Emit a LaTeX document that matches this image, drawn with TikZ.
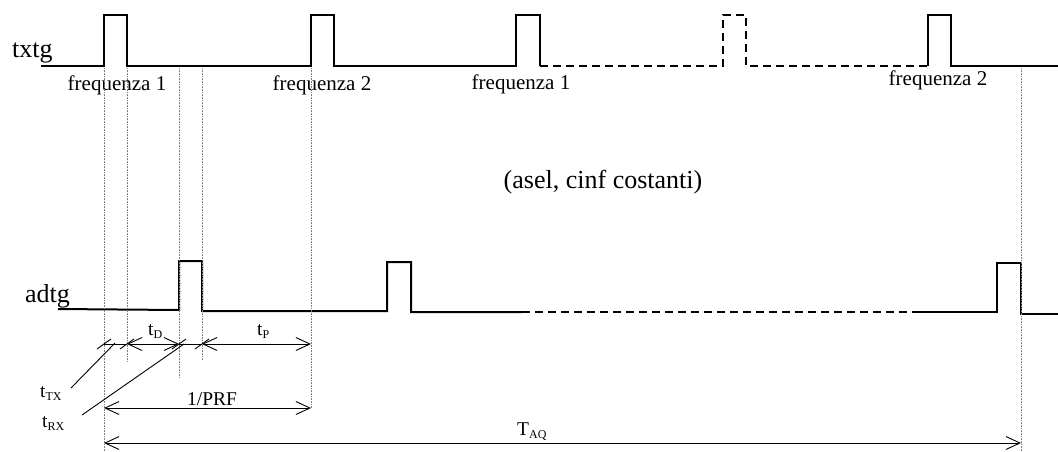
\documentclass[tikz,border=0pt]{standalone}
\usepackage{fontspec}
\setmainfont{Liberation Serif}
\usetikzlibrary{arrows.meta}
\newcommand{\lowidx}[1]{{\fontsize{12}{12}\selectfont\raisebox{-3pt}{#1}}}

\begin{document}
\begin{tikzpicture}[x=1pt,y=-1pt,
    signal/.style={line width=2pt,line join=miter},
    guide/.style={densely dotted,gray,line width=0.6pt},
    dimline/.style={line width=0.9pt,{Straight Barb[length=14pt,width=13pt]}-{Straight Barb[length=14pt,width=13pt]}},
    bigtext/.style={font=\fontsize{26}{28}\selectfont,inner sep=0pt},
    freqtext/.style={font=\fontsize{21}{23}\selectfont,inner sep=0pt},
    dimtext/.style={font=\fontsize{19.5}{21}\selectfont,inner sep=0pt}]
    \useasboundingbox (0,0) rectangle (1058,451);
    % signal names
    \node[bigtext,anchor=base west] (txtg) at (12,57) {txtg};
    \node[bigtext,anchor=base west] (adtg) at (25,302) {adtg};
    % txtg
    \draw[signal] (41,66) -- (104,66) -- (104,15) -- (127,15) -- (127,66) -- (311,66) -- (311,15) -- (334,15) -- (334,66)
      -- (516,66) -- (516,15) -- (540,15) -- (540,66);
    \begin{scope}[dashed,dash pattern=on 8pt off 5pt]
      \draw[signal] (540,66) -- (723,66) -- (723,15) -- (746,15) -- (746,66) -- (928,66);
    \end{scope}
    \draw[signal] (928,66) -- (928,15) -- (951,15) -- (951,66) -- (1058,66);
    % adtg
    \draw[signal] (58,309) -- (179,310) -- (179,261) -- (202,261) -- (202,311) -- (387,311) -- (387,262) -- (411,262)
      -- (411,312) -- (522,312);
    \begin{scope}[dashed,dash pattern=on 8pt off 5pt]
      \draw[signal] (522,312) -- (917,312);
    \end{scope}
    \draw[signal] (917,312) -- (997,312) -- (997,263) -- (1021,263) -- (1021,314) -- (1058,314);
    % labels
    \node[freqtext,anchor=base] (f1) at (117,90) {frequenza 1};
    \node[freqtext,anchor=base] (f2) at (322,90) {frequenza 2};
    \node[freqtext,anchor=base] (f3) at (521,89) {frequenza 1};
    \node[freqtext,anchor=base] (f4) at (938,85) {frequenza 2};
    \node[bigtext,anchor=base] (note) at (603,188) {(asel, cinf costanti)};
    % guides
    \foreach \x/\y in {104/451,127/362,179/377,202/360,311/408,1021/451}
    {
      \draw[guide] (\x,68) -- (\x,\y);
    }
    % time marks
    \coordinate (ta) at (104,344);
    \coordinate (tb) at (127,344);
    \coordinate (tc) at (179,344);
    \coordinate (td) at (202,344);
    \coordinate (te) at (311,344);
    \draw[line width=0.9pt] (ta) -- (tb);
    \draw[line width=0.9pt] (tc) -- (td);
    \draw[dimline] (tb) -- (tc);
    \draw[dimline] (td) -- (te);
    \foreach \x in {104,127,179,202}
    {
      \draw[line width=0.9pt] (\x-7,349) -- (\x+7,339);
    }
    \node[dimtext,anchor=base west] (tD) at (148,335) {t\lowidx{D}};
    \node[dimtext,anchor=base west] (tP) at (257,335) {t\lowidx{P}};
    \node[dimtext,anchor=base west] (tTX) at (40,397) {t\lowidx{TX}};
    \node[dimtext,anchor=base west] (tRX) at (42,427) {t\lowidx{RX}};
    \coordinate (ltx) at (71,388);
    \coordinate (lrx) at (82,415);
    \coordinate (etx) at (115,343);
    \coordinate (erx) at (184,344);
    \draw[line width=0.9pt] (ltx) -- (etx);
    \draw[line width=0.9pt] (lrx) -- (erx);
    % periods
    \coordinate (pa) at (104,408);
    \coordinate (pb) at (311,408);
    \coordinate (qa) at (104,443);
    \coordinate (qb) at (1021,443);
    \draw[dimline] (pa) -- (pb);
    \draw[dimline] (qa) -- (qb);
    \node[dimtext,anchor=base west] (prf) at (187,405) {1/PRF};
    \node[dimtext,anchor=base west] (taq) at (517,435) {T\lowidx{AQ}};
  \end{tikzpicture}
\end{document}
